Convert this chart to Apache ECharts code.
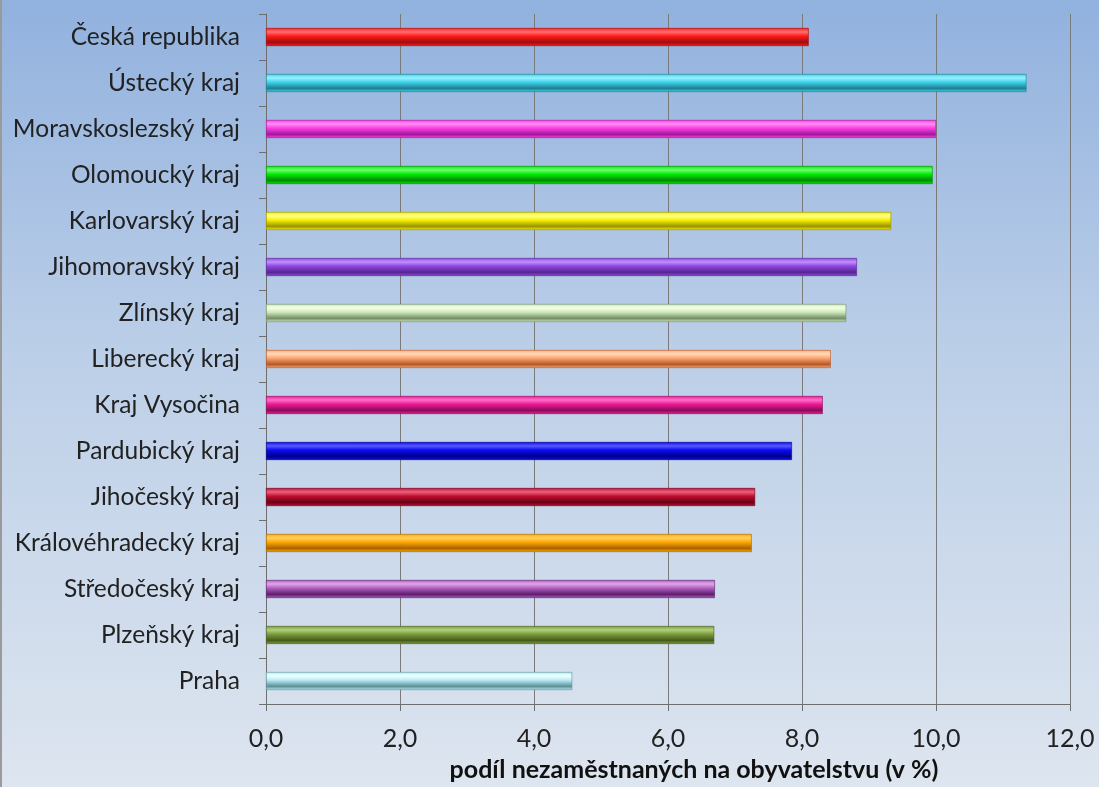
<!DOCTYPE html>
<html>
<head>
<meta charset="utf-8">
<script src="https://cdn.jsdelivr.net/npm/echarts@6/dist/echarts.min.js"></script>
<style>
html,body{margin:0;padding:0;}
#chart{width:1099px;height:787px;}
</style>
</head>
<body>
<div id="chart"></div>
<script>
const categories = ['Česká republika','Ústecký kraj','Moravskoslezský kraj','Olomoucký kraj','Karlovarský kraj','Jihomoravský kraj','Zlínský kraj','Liberecký kraj','Kraj Vysočina','Pardubický kraj','Jihočeský kraj','Královéhradecký kraj','Středočeský kraj','Plzeňský kraj','Praha'];
const values = [8.1, 11.35, 10.0, 9.95, 9.33, 8.82, 8.66, 8.43, 8.31, 7.85, 7.3, 7.25, 6.7, 6.69, 4.57];
const xTicks = [0, 2, 4, 6, 8, 10, 12];
const axisTitle = 'podíl nezaměstnaných na obyvatelstvu (v %)';
const barLight = ['#ff7070','#9cf0ff','#ff90f4','#70ff70','#ffff90','#c090ff','#f4ffe8','#ffdcc0','#ff70c8','#5a5aff','#f06080','#ffd060','#e0a8e8','#b0d080','#f0ffff'];
const barMid   = ['#ff1a1a','#3fd4ec','#ff3ee6','#00ec00','#f6f000','#9046e0','#cfeab8','#ffa66e','#ee1a96','#0a0af0','#c0102e','#ffa800','#b060c0','#7c9c3c','#b8ecf4'];
const barDark  = ['#a00c0c','#1e7e90','#a01898','#008a00','#9a9400','#562690','#748e68','#b05a2a','#8c0c58','#00008a','#6a0018','#a86400','#5e1e6c','#465c1c','#5c9098'];

const chart = echarts.init(document.getElementById('chart'));
const font = 'Lato, "Open Sans", sans-serif';
chart.setOption({
  backgroundColor: {
    type: 'linear', x: 0, y: 0, x2: 0, y2: 1,
    colorStops: [
      {offset: 0, color: '#91b1de'},
      {offset: 0.45, color: '#bccfe8'},
      {offset: 1, color: '#dde5ef'}
    ]
  },
  animation: false,
  grid: {left: 266, right: 29, top: 14, bottom: 78, containLabel: false},
  xAxis: {
    type: 'value', min: 0, max: 12, interval: 2,
    axisLine: {show: true, lineStyle: {color: '#6e6e6e', width: 1}},
    axisTick: {show: true, length: 7, lineStyle: {color: '#6e6e6e'}},
    splitLine: {show: true, lineStyle: {color: '#7a7a7a', width: 1}},
    axisLabel: {
      margin: 22, fontSize: 25, color: '#222', fontFamily: font,
      formatter: v => xTicks.includes(v) ? v.toFixed(1).replace('.', ',') : ''
    },
    name: axisTitle, nameLocation: 'middle', nameGap: 53,
    nameTextStyle: {fontSize: 25, fontWeight: 'bold', color: '#111', fontFamily: font, padding: [0, 0, 0, 52]}
  },
  yAxis: {
    type: 'category', data: categories, inverse: true,
    axisLine: {show: true, lineStyle: {color: '#6e6e6e', width: 1}},
    axisTick: {show: true, length: 7, alignWithLabel: false, lineStyle: {color: '#6e6e6e'}},
    axisLabel: {margin: 26, fontSize: 24.5, color: '#222', fontFamily: font}
  },
  graphic: [{type: 'rect', shape: {x: 0, y: 0, width: 2, height: 787}, style: {fill: '#9a9a9a'}}],
  series: [{
    type: 'bar',
    barWidth: 18,
    data: values.map((v, i) => ({
      value: v,
      itemStyle: {
        color: {
          type: 'linear', x: 0, y: 0, x2: 0, y2: 1,
          colorStops: [
            {offset: 0, color: barMid[i]},
            {offset: 0.22, color: barLight[i]},
            {offset: 0.45, color: barMid[i]},
            {offset: 0.8, color: barDark[i]},
            {offset: 1, color: barMid[i]}
          ]
        },
        borderColor: barDark[i], borderWidth: 0.6
      }
    }))
  }]
});
</script>
</body>
</html>
